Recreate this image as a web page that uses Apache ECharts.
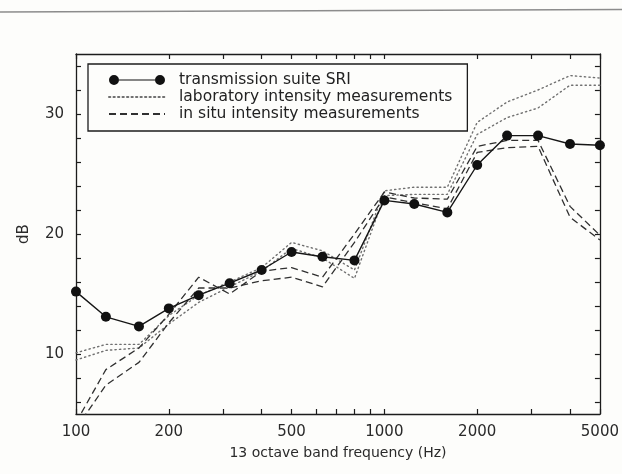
<!DOCTYPE html>
<html>
<head>
<meta charset="utf-8">
<script src="https://cdn.jsdelivr.net/npm/echarts@6/dist/echarts.min.js"></script>
<style>
  html, body { margin: 0; padding: 0; background: #fdfdfb; }
  #chart { width: 622px; height: 474px; }
</style>
</head>
<body>
<div id="chart"></div>
<script>
// One-third octave band centre frequencies (Hz)
const bands = [100, 125, 160, 200, 250, 315, 400, 500, 630, 800, 1000, 1250, 1600, 2000, 2500, 3150, 4000, 5000];

// Sound reduction index from the transmission suite (dB)
const sriSuite = [15.2, 13.1, 12.3, 13.8, 14.9, 15.9, 17.0, 18.5, 18.1, 17.8, 22.8, 22.5, 21.8, 25.75, 28.2, 28.2, 27.5, 27.4];

// Laboratory intensity measurements, two runs (dB)
const labIntensityA = [10.1, 10.8, 10.8, 13.2, 14.9, 16.0, 17.2, 19.3, 18.6, 17.0, 23.6, 23.9, 23.9, 29.3, 31.0, 32.0, 33.2, 33.0];
const labIntensityB = [9.5, 10.3, 10.5, 12.5, 14.3, 15.6, 16.9, 18.8, 18.0, 16.3, 23.2, 23.3, 23.3, 28.3, 29.7, 30.5, 32.4, 32.4];

// In situ intensity measurements, two runs (dB)
const inSituA = [4.3, 8.7, 10.5, 13.3, 16.4, 15.0, 16.9, 17.2, 16.4, 20.0, 23.5, 23.0, 22.9, 27.3, 27.8, 27.8, 22.3, 19.9];
const inSituB = [3.8, 7.4, 9.3, 12.6, 15.5, 15.5, 16.1, 16.4, 15.6, 19.3, 23.1, 22.6, 22.1, 26.8, 27.2, 27.3, 21.4, 19.5];

// Axis ticks and labels
const freqTicks = [100, 200, 300, 400, 500, 600, 700, 800, 900, 1000, 2000, 3000, 4000, 5000];
const freqLabels = [100, 200, 500, 1000, 2000, 5000];
const dbTicks = [6, 8, 10, 12, 14, 16, 18, 20, 22, 24, 26, 28, 30, 32, 34];
const dbLabels = [10, 20, 30];

const NAME_SRI = 'transmission suite SRI';
const NAME_LAB = 'laboratory intensity measurements';
const NAME_SITU = 'in situ intensity measurements';

const FONT = 'DejaVu Sans';
const INK = '#1c1c1c';

const pairs = vals => bands.map((f, i) => [f, vals[i]]);

const freqAxis = (position, withLabels) => ({
  type: 'log',
  logBase: 10,
  min: 100,
  max: 5000,
  position: position,
  gridIndex: 0,
  axisLine: { show: true, onZero: false, lineStyle: { color: INK, width: 1.3 } },
  axisTick: { show: true, inside: true, length: 5, customValues: freqTicks, lineStyle: { color: INK, width: 1.2 } },
  axisLabel: withLabels
    ? {
        show: true, customValues: freqLabels, margin: 11,
        fontFamily: FONT, fontSize: 15, color: '#2a2a2a',
        formatter: v => String(Math.round(v))
      }
    : { show: false },
  splitLine: { show: false },
  minorTick: { show: false }
});

const dbAxis = (position, withLabels) => ({
  type: 'value',
  min: 5,
  max: 35,
  position: position,
  gridIndex: 0,
  axisLine: { show: true, onZero: false, lineStyle: { color: INK, width: 1.3 } },
  axisTick: { show: true, inside: true, length: 5, customValues: dbTicks, lineStyle: { color: INK, width: 1.2 } },
  axisLabel: withLabels
    ? { show: true, customValues: dbLabels, margin: 12, fontFamily: FONT, fontSize: 15, color: '#2a2a2a' }
    : { show: false },
  splitLine: { show: false }
});

const bottomAxis = freqAxis('bottom', true);
bottomAxis.name = '13 octave band frequency (Hz)';
bottomAxis.nameLocation = 'middle';
bottomAxis.nameGap = 32;
bottomAxis.nameTextStyle = { fontFamily: FONT, fontSize: 14, color: '#2a2a2a' };

const leftAxis = dbAxis('left', true);
leftAxis.name = 'dB';
leftAxis.nameLocation = 'middle';
leftAxis.nameRotate = 90;
leftAxis.nameGap = 44;
leftAxis.nameTextStyle = { fontFamily: FONT, fontSize: 15, color: '#2a2a2a' };

const dottedStyle = { type: [1.3, 3.2], width: 1.4, color: '#707070', cap: 'round' };
const dashedStyle = { type: [7, 4], width: 1.3, color: '#303030' };

const lineSeries = (name, vals, style, extra) => Object.assign({
  type: 'line',
  name: name,
  data: pairs(vals),
  xAxisIndex: 0,
  yAxisIndex: 0,
  symbol: 'none',
  lineStyle: style,
  itemStyle: { color: style.color },
  clip: true,
  z: 2
}, extra || {});

// legend entries for the plain line series show the line only
const lineOnlyIcon = { color: 'transparent', borderWidth: 0, opacity: 0 };

const chart = echarts.init(document.getElementById('chart'), null, { renderer: 'canvas' });

chart.setOption({
  animation: false,
  backgroundColor: '#fdfdfb',
  grid: { left: 76, right: 21, top: 54, bottom: 60, containLabel: false },
  xAxis: [bottomAxis, freqAxis('top', false)],
  yAxis: [leftAxis, dbAxis('right', false)],
  legend: {
    orient: 'vertical',
    left: 88,
    top: 64,
    padding: [8, 15, 9, 20],
    itemWidth: 56,
    itemHeight: 10,
    itemGap: 1,
    borderColor: INK,
    borderWidth: 1.3,
    borderRadius: 0,
    backgroundColor: '#fdfdfb',
    selectedMode: false,
    textStyle: { fontFamily: FONT, fontSize: 15.5, color: '#222', padding: [0, 0, 0, 9] },
    data: [
      {
        name: NAME_SRI,
        icon: 'path://M0,5A5,5,0,1,1,10,5A5,5,0,1,1,0,5ZM10,4.4L46,4.4L46,5.6L10,5.6ZM46,5A5,5,0,1,1,56,5A5,5,0,1,1,46,5Z',
        itemStyle: { color: '#111' }
      },
      { name: NAME_LAB, itemStyle: lineOnlyIcon },
      { name: NAME_SITU, itemStyle: lineOnlyIcon }
    ]
  },
  graphic: [
    {
      // ruled line across the head of the figure
      type: 'line',
      shape: { x1: 0, y1: 12, x2: 622, y2: 9.5 },
      style: { stroke: '#8c8c8c', lineWidth: 1.5 },
      silent: true
    }
  ],
  series: [
    lineSeries(NAME_LAB, labIntensityA, dottedStyle),
    lineSeries(NAME_LAB, labIntensityB, dottedStyle),
    lineSeries(NAME_SITU, inSituA, dashedStyle),
    lineSeries(NAME_SITU, inSituB, dashedStyle),
    lineSeries(NAME_SRI, sriSuite, { type: 'solid', width: 1.4, color: '#161616' }, {
      symbol: 'circle',
      symbolSize: 10,
      showAllSymbol: true,
      itemStyle: { color: '#111' },
      z: 4
    })
  ]
});
</script>
</body>
</html>
